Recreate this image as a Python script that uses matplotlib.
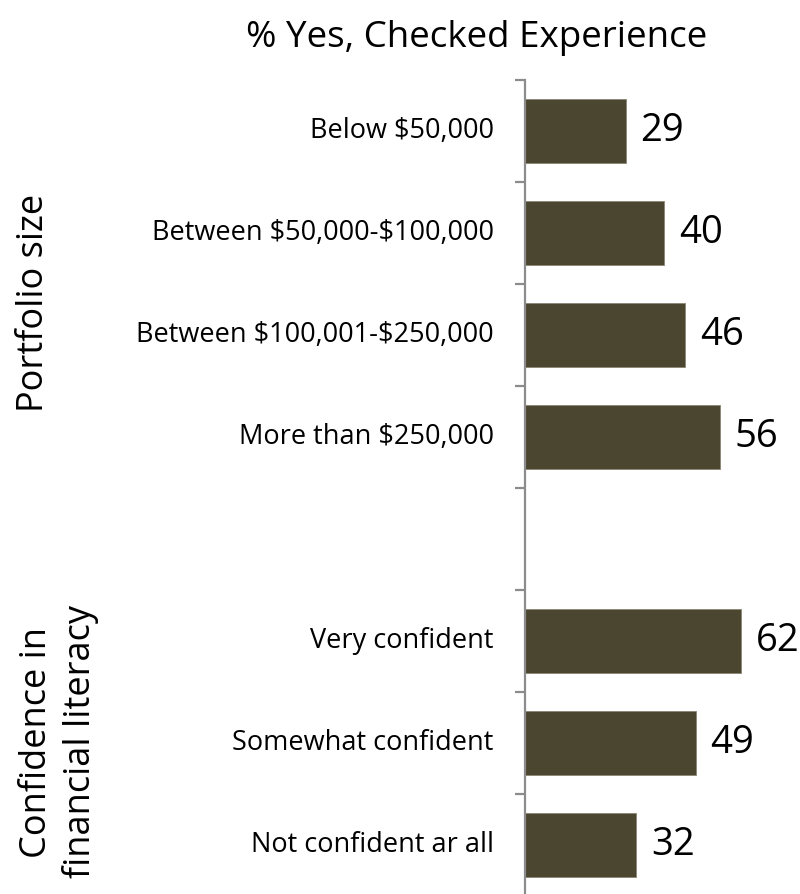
import matplotlib
matplotlib.use("Agg")
import matplotlib.pyplot as plt
import numpy as np

plt.rcParams['font.family'] = ['Open Sans', 'DejaVu Sans']
plt.rcParams['text.parse_math'] = False

# Survey results: share answering "Yes", checked experience
categories = [
    "Below $50,000",
    "Between $50,000-$100,000",
    "Between $100,001-$250,000",
    "More than $250,000",
    "",
    "Very confident",
    "Somewhat confident",
    "Not confident ar all",
]
values = [29, 40, 46, 56, None, 62, 49, 32]
group_labels = ["Portfolio size", "Confidence in\nfinancial literacy"]
title = "% Yes, Checked Experience"

W, H = 800, 894
fig = plt.figure(figsize=(W / 100, H / 100), dpi=100)

axis_x = 525
top_px, bottom_px = 80, 896
ax = fig.add_axes([axis_x / W, (H - bottom_px) / H, 1 - axis_x / W, (bottom_px - top_px) / H])

bar_color = "#4b4630"
for i, v in enumerate(values):
    if v is None:
        continue
    ax.barh(i, v, height=0.63, color=bar_color, edgecolor="#8a8574", linewidth=0.6)
    ax.text(v + 4.2, i, str(v), va="center", ha="left", fontsize=27.5, color="black")
    ax.text(-9.0, i, categories[i], va="center", ha="right", fontsize=19.5, color="black")

ax.set_xlim(0, (W - axis_x) / 3.48)
ax.set_ylim(len(categories) - 0.5, -0.5)
ax.set_yticks(np.arange(-0.5, len(categories) + 0.5, 1.0))
ax.set_yticklabels([])
ax.set_xticks([])
for s in ["top", "right", "bottom"]:
    ax.spines[s].set_visible(False)
ax.spines["left"].set_color("#8c8c8c")
ax.spines["left"].set_linewidth(1.6)
ax.tick_params(axis="y", direction="out", length=7.5, width=1.6, color="#8c8c8c")

fig.text(477 / W, 1 - 38 / H, title, ha="center", va="center", fontsize=26.5, color="black")

fig.text(34 / W, 1 - 303 / H, group_labels[0], rotation=90, ha="center", va="center",
         fontsize=26, color="black")
fig.text(59 / W, 1 - 742 / H, group_labels[1], rotation=90, ha="center", va="center",
         fontsize=26, color="black", multialignment="center", linespacing=1.22)

fig.savefig("out.png", dpi=100)
